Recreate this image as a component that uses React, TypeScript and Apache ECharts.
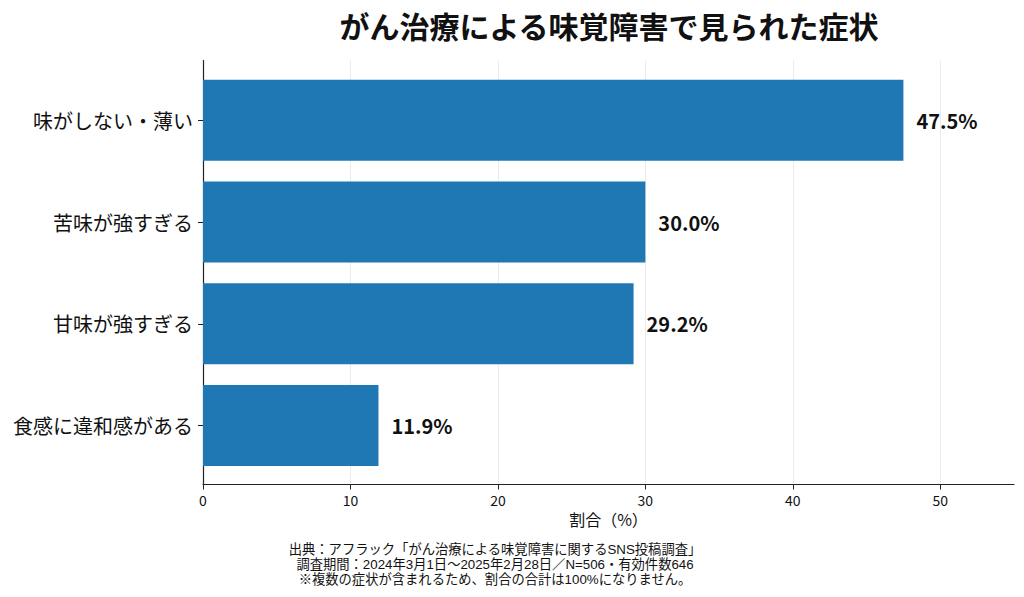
import React, { useEffect, useRef } from "react";
import * as echarts from "echarts";

const categories = ["味がしない・薄い", "苦味が強すぎる", "甘味が強すぎる", "食感に違和感がある"];
const values = [47.5, 30.0, 29.2, 11.9];
const xTicks = [0, 10, 20, 30, 40, 50];
const titleText = "がん治療による味覚障害で見られた症状";
const xAxisName = "割合（%）";
const footerLines = [
  "出典：アフラック「がん治療による味覚障害に関するSNS投稿調査」",
  "調査期間：2024年3月1日〜2025年2月28日／N=506・有効件数646",
  "※複数の症状が含まれるため、割合の合計は100%になりません。",
];

const FONT = "'Noto Sans CJK JP', 'Noto Sans', sans-serif";
const FOOT_FONT = "'Liberation Sans', 'Noto Sans CJK JP', sans-serif";

export default function App() {
  const ref = useRef<HTMLDivElement>(null);
  useEffect(() => {
    document.body.style.margin = "0";
    if (!ref.current) return;
    const chart = echarts.init(ref.current, undefined, { renderer: "svg" });
    chart.setOption({
      animation: false,
      backgroundColor: "#ffffff",
      textStyle: { fontFamily: FONT },
      grid: [
        { left: 203, right: 10, top: 60.5, height: 424, containLabel: false },
        { left: 203, right: 10, top: 69.5, height: 406.8, containLabel: false },
      ],
      xAxis: [
        {
          type: "value",
          gridIndex: 0,
          min: 0,
          max: 55,
          interval: 10,
          axisLine: { show: true, lineStyle: { color: "#222", width: 1.2 } },
          axisTick: { show: true, length: 5, lineStyle: { color: "#222" }, customValues: xTicks },
          axisLabel: {
            fontSize: 14,
            color: "#111",
            margin: 8,
            fontFamily: FONT,
            customValues: xTicks,
            formatter: (v: number) => (xTicks.includes(v) ? String(v) : ""),
          },
          splitLine: { show: true, lineStyle: { color: "#ebebeb", width: 1 } },
          name: xAxisName,
          nameLocation: "middle",
          nameGap: 26,
          nameTextStyle: { fontSize: 16, color: "#111", fontFamily: FONT },
        },
        {
          type: "value",
          gridIndex: 1,
          min: 0,
          max: 55,
          show: false,
        },
      ],
      yAxis: [
        {
          type: "value",
          gridIndex: 0,
          min: 0,
          max: 1,
          axisLine: { show: true, lineStyle: { color: "#222", width: 1.2 } },
          axisTick: { show: false },
          axisLabel: { show: false },
          splitLine: { show: false },
        },
        {
          type: "category",
          gridIndex: 1,
          inverse: true,
          data: categories,
          axisLine: { show: false },
          axisTick: { show: true, alignWithLabel: true, length: 5, lineStyle: { color: "#222" } },
          axisLabel: { fontSize: 20, color: "#111", margin: 10, fontFamily: FONT },
          splitLine: { show: false },
        },
      ],
      series: [
        {
          type: "bar",
          xAxisIndex: 1,
          yAxisIndex: 1,
          data: values,
          barWidth: 81,
          itemStyle: { color: "#1f77b4" },
          label: {
            show: true,
            position: "right",
            distance: 13,
            fontSize: 20,
            fontWeight: "bold",
            color: "#111",
            fontFamily: FONT,
            formatter: (p: any) => Number(p.value).toFixed(1) + "%",
          },
        },
      ],
      graphic: [
        {
          type: "text",
          x: 609,
          y: 25,
          style: {
            text: titleText,
            fontSize: 30,
            fontWeight: "bold",
            fill: "#111",
            fontFamily: FONT,
            textAlign: "center",
            textVerticalAlign: "middle",
          },
        },
        ...footerLines.map((line, i) => ({
          type: "text",
          x: 495,
          y: 549 + i * 15.4,
          style: {
            text: line,
            fontSize: 13.3,
            lineHeight: 15,
            fill: "#111",
            fontFamily: FOOT_FONT,
            textAlign: "center",
            textVerticalAlign: "middle",
          },
        })),
      ],
    });
    return () => chart.dispose();
  }, []);
  return <div ref={ref} style={{ width: 1024, height: 597 }} />;
}
